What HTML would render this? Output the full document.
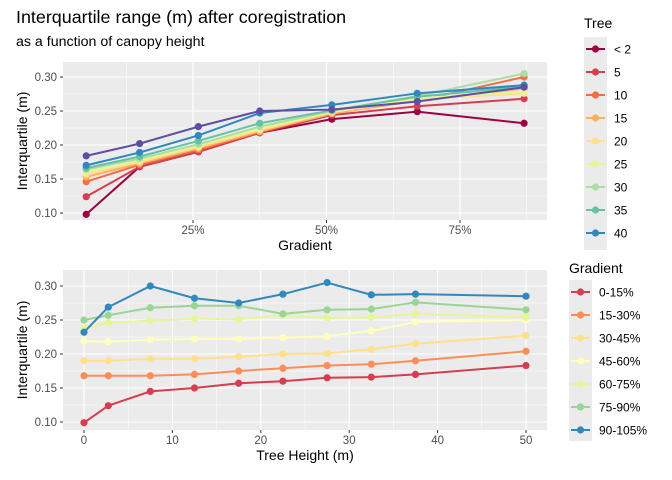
<!DOCTYPE html>
<html><head><meta charset="utf-8"><style>
body{margin:0;background:#fff;font-family:"Liberation Sans",Arial,sans-serif}
svg{display:block}
</style></head><body>
<svg id="c" width="672" height="480" xmlns="http://www.w3.org/2000/svg">
<text x="16" y="23" font-size="17.9" fill="#000">Interquartile range (m) after coregistration</text>
<text x="16" y="46" font-size="14.2" fill="#000">as a function of canopy height</text>
</svg>
<script>
// ---- top panel data ----
const gradX = [5, 15, 26, 37.5, 51, 67, 87];
const treeNames = ['< 2','5','10','15','20','25','30','35','40','45'];
const treeColors = ['#9E0142','#D53E4F','#F46D43','#FDAE61','#FEE08B','#E6F598','#ABDDA4','#66C2A5','#3288BD','#5E4FA2'];
const tLt2 = [0.098,0.168,0.190,0.218,0.238,0.249,0.232];
const t5  = [0.124,0.168,0.190,0.218,0.244,0.257,0.268];
const t10 = [0.146,0.171,0.193,0.219,0.247,0.265,0.300];
const t15 = [0.153,0.173,0.195,0.220,0.246,0.266,0.283];
const t20 = [0.157,0.175,0.197,0.222,0.248,0.267,0.276];
const t25 = [0.161,0.178,0.199,0.224,0.249,0.269,0.278];
const t30 = [0.164,0.180,0.201,0.227,0.250,0.272,0.305];
const t35 = [0.166,0.183,0.206,0.232,0.251,0.271,0.286];
const t40 = [0.170,0.189,0.214,0.247,0.259,0.276,0.288];
const t45 = [0.184,0.202,0.227,0.250,0.252,0.264,0.285];
const topXTicks = [25,50,75];
const yTicks = [0.10,0.15,0.20,0.25,0.30];
// ---- bottom panel data ----
const heights = [0,2.75,7.5,12.5,17.5,22.5,27.5,32.5,37.5,50];
const gradNames = ['0-15%','15-30%','30-45%','45-60%','60-75%','75-90%','90-105%'];
const gradColors = ['#D53E4F','#FC8D59','#FEE08B','#FFFFBF','#E6F598','#99D594','#3288BD'];
const g0  = [0.099,0.124,0.145,0.150,0.157,0.160,0.165,0.166,0.170,0.183];
const g15 = [0.168,0.168,0.168,0.170,0.175,0.179,0.183,0.185,0.190,0.204];
const g30 = [0.190,0.190,0.193,0.193,0.196,0.200,0.201,0.207,0.215,0.227];
const g45 = [0.219,0.218,0.221,0.222,0.222,0.224,0.226,0.234,0.247,0.250];
const g60 = [0.238,0.246,0.249,0.252,0.251,0.257,0.253,0.254,0.259,0.254];
const g75 = [0.250,0.257,0.268,0.271,0.271,0.259,0.265,0.266,0.276,0.265];
const g90 = [0.232,0.269,0.300,0.282,0.275,0.288,0.305,0.287,0.288,0.285];
const botXTicks = [0,10,20,30,40,50];

const svg = document.getElementById('c');
const NS = 'http://www.w3.org/2000/svg';
function mk(tag, attrs, parent){const e=document.createElementNS(NS,tag);for(const k in attrs)e.setAttribute(k,attrs[k]);(parent||svg).appendChild(e);return e;}

function panel(p){
  const g = mk('g',{});
  
  
  const bg = mk('rect',{x:p.x0,y:p.y0,width:p.x1-p.x0,height:p.y1-p.y0,fill:'#EBEBEB'},g);
  
  
  const sx = v => p.px0 + (v - p.dx0) * (p.px1 - p.px0) / (p.dx1 - p.dx0);
  const sy = v => p.py0 + (v - 0.10) * (p.py1 - p.py0) / 0.20;
  for (let i=0;i<yTicks.length-1;i++){const y=sy((yTicks[i]+yTicks[i+1])/2);mk('line',{x1:p.x0,x2:p.x1,y1:y,y2:y,stroke:'#fff','stroke-width':0.5},g);}
  const xt=p.xticks, step=xt[1]-xt[0];
  for (let v=xt[0]-step/2; v<=xt[xt.length-1]+step/2+1e-9; v+=step){const x=sx(v);if(x>p.x0&&x<p.x1)mk('line',{x1:x,x2:x,y1:p.y0,y2:p.y1,stroke:'#fff','stroke-width':0.5},g);}
  yTicks.forEach(v=>{const y=sy(v);mk('line',{x1:p.x0,x2:p.x1,y1:y,y2:y,stroke:'#fff','stroke-width':1.1},g);
    mk('line',{x1:p.x0-3,x2:p.x0,y1:y,y2:y,stroke:'#333','stroke-width':1},g);
    const t=mk('text',{x:p.x0-6,y:y+4,'font-size':11.5,fill:'#4D4D4D','text-anchor':'end'},g);t.textContent=v.toFixed(2);
    
    });
  xt.forEach(v=>{const x=sx(v);mk('line',{x1:x,x2:x,y1:p.y0,y2:p.y1,stroke:'#fff','stroke-width':1.1},g);
    mk('line',{x1:x,x2:x,y1:p.y1,y2:p.y1+3,stroke:'#333','stroke-width':1},g);
    const t=mk('text',{x:x,y:p.y1+14,'font-size':11.5,fill:'#4D4D4D','text-anchor':'middle'},g);t.textContent=v+p.suffix;
    
    });
  p.series.forEach((s,i)=>{
    const sg=mk('g',{},g);
    
    
    mk('polyline',{points:s.map((v,j)=>sx(p.xs[j])+','+sy(v)).join(' '),fill:'none',stroke:p.colors[i],'stroke-width':2},sg);
    s.forEach((v,j)=>{const c=mk('circle',{cx:sx(p.xs[j]),cy:sy(v),r:3.6,fill:p.colors[i]},sg);
      
      });
  });
  const xl=mk('text',{x:(p.x0+p.x1)/2,y:p.y1+30,'font-size':14,fill:'#000','text-anchor':'middle'},g);xl.textContent=p.xlab;
  
  
  const yl=mk('text',{x:0,y:0,'font-size':14,fill:'#000','text-anchor':'middle',transform:`translate(27,${(p.y0+p.y1)/2}) rotate(-90)`},g);yl.textContent='Interquartile (m)';
  
  
}
panel({name:'top-panel',x0:63,x1:547,y0:62,y1:220,px0:59.5,px1:460,dx0:0,dx1:75,py0:213,py1:77,
  xticks:topXTicks,suffix:'%',xs:gradX,series:[tLt2,t5,t10,t15,t20,t25,t30,t35,t40,t45],colors:treeColors,names:treeNames,xlab:'Gradient'});
panel({name:'bottom-panel',x0:63,x1:547,y0:270,y1:430,px0:84,px1:526,dx0:0,dx1:50,py0:422,py1:286,
  xticks:botXTicks,suffix:'',xs:heights,series:[g0,g15,g30,g45,g60,g75,g90],colors:gradColors,names:gradNames,xlab:'Tree Height (m)'});

function legend(name,title,tx,ty,kx,ky0,names,colors,count,bgBottom){
  const g=mk('g',{});
  
  
  const t=mk('text',{x:tx,y:ty,'font-size':14,fill:'#000'},g);t.textContent=title;
  
  
  mk('rect',{x:kx,y:ky0-12,width:23,height:bgBottom-(ky0-12),fill:'#EBEBEB'},g);
  for(let i=0;i<count;i++){
    const y=ky0+i*23;
    const e=mk('g',{},g);
    
    
    mk('line',{x1:kx+2,x2:kx+21,y1:y,y2:y,stroke:colors[i],'stroke-width':2},e);
    mk('circle',{cx:kx+11.5,cy:y,r:3.6,fill:colors[i]},e);
    const l=mk('text',{x:kx+30,y:y+4.5,'font-size':12,fill:'#000'},e);l.textContent=names[i];
  }
}
legend('tree-legend','Tree',584,28,584,49,treeNames,treeColors,9,250);
legend('gradient-legend','Gradient',569,273,569,292,gradNames,gradColors,7,441);
</script>
</body></html>
